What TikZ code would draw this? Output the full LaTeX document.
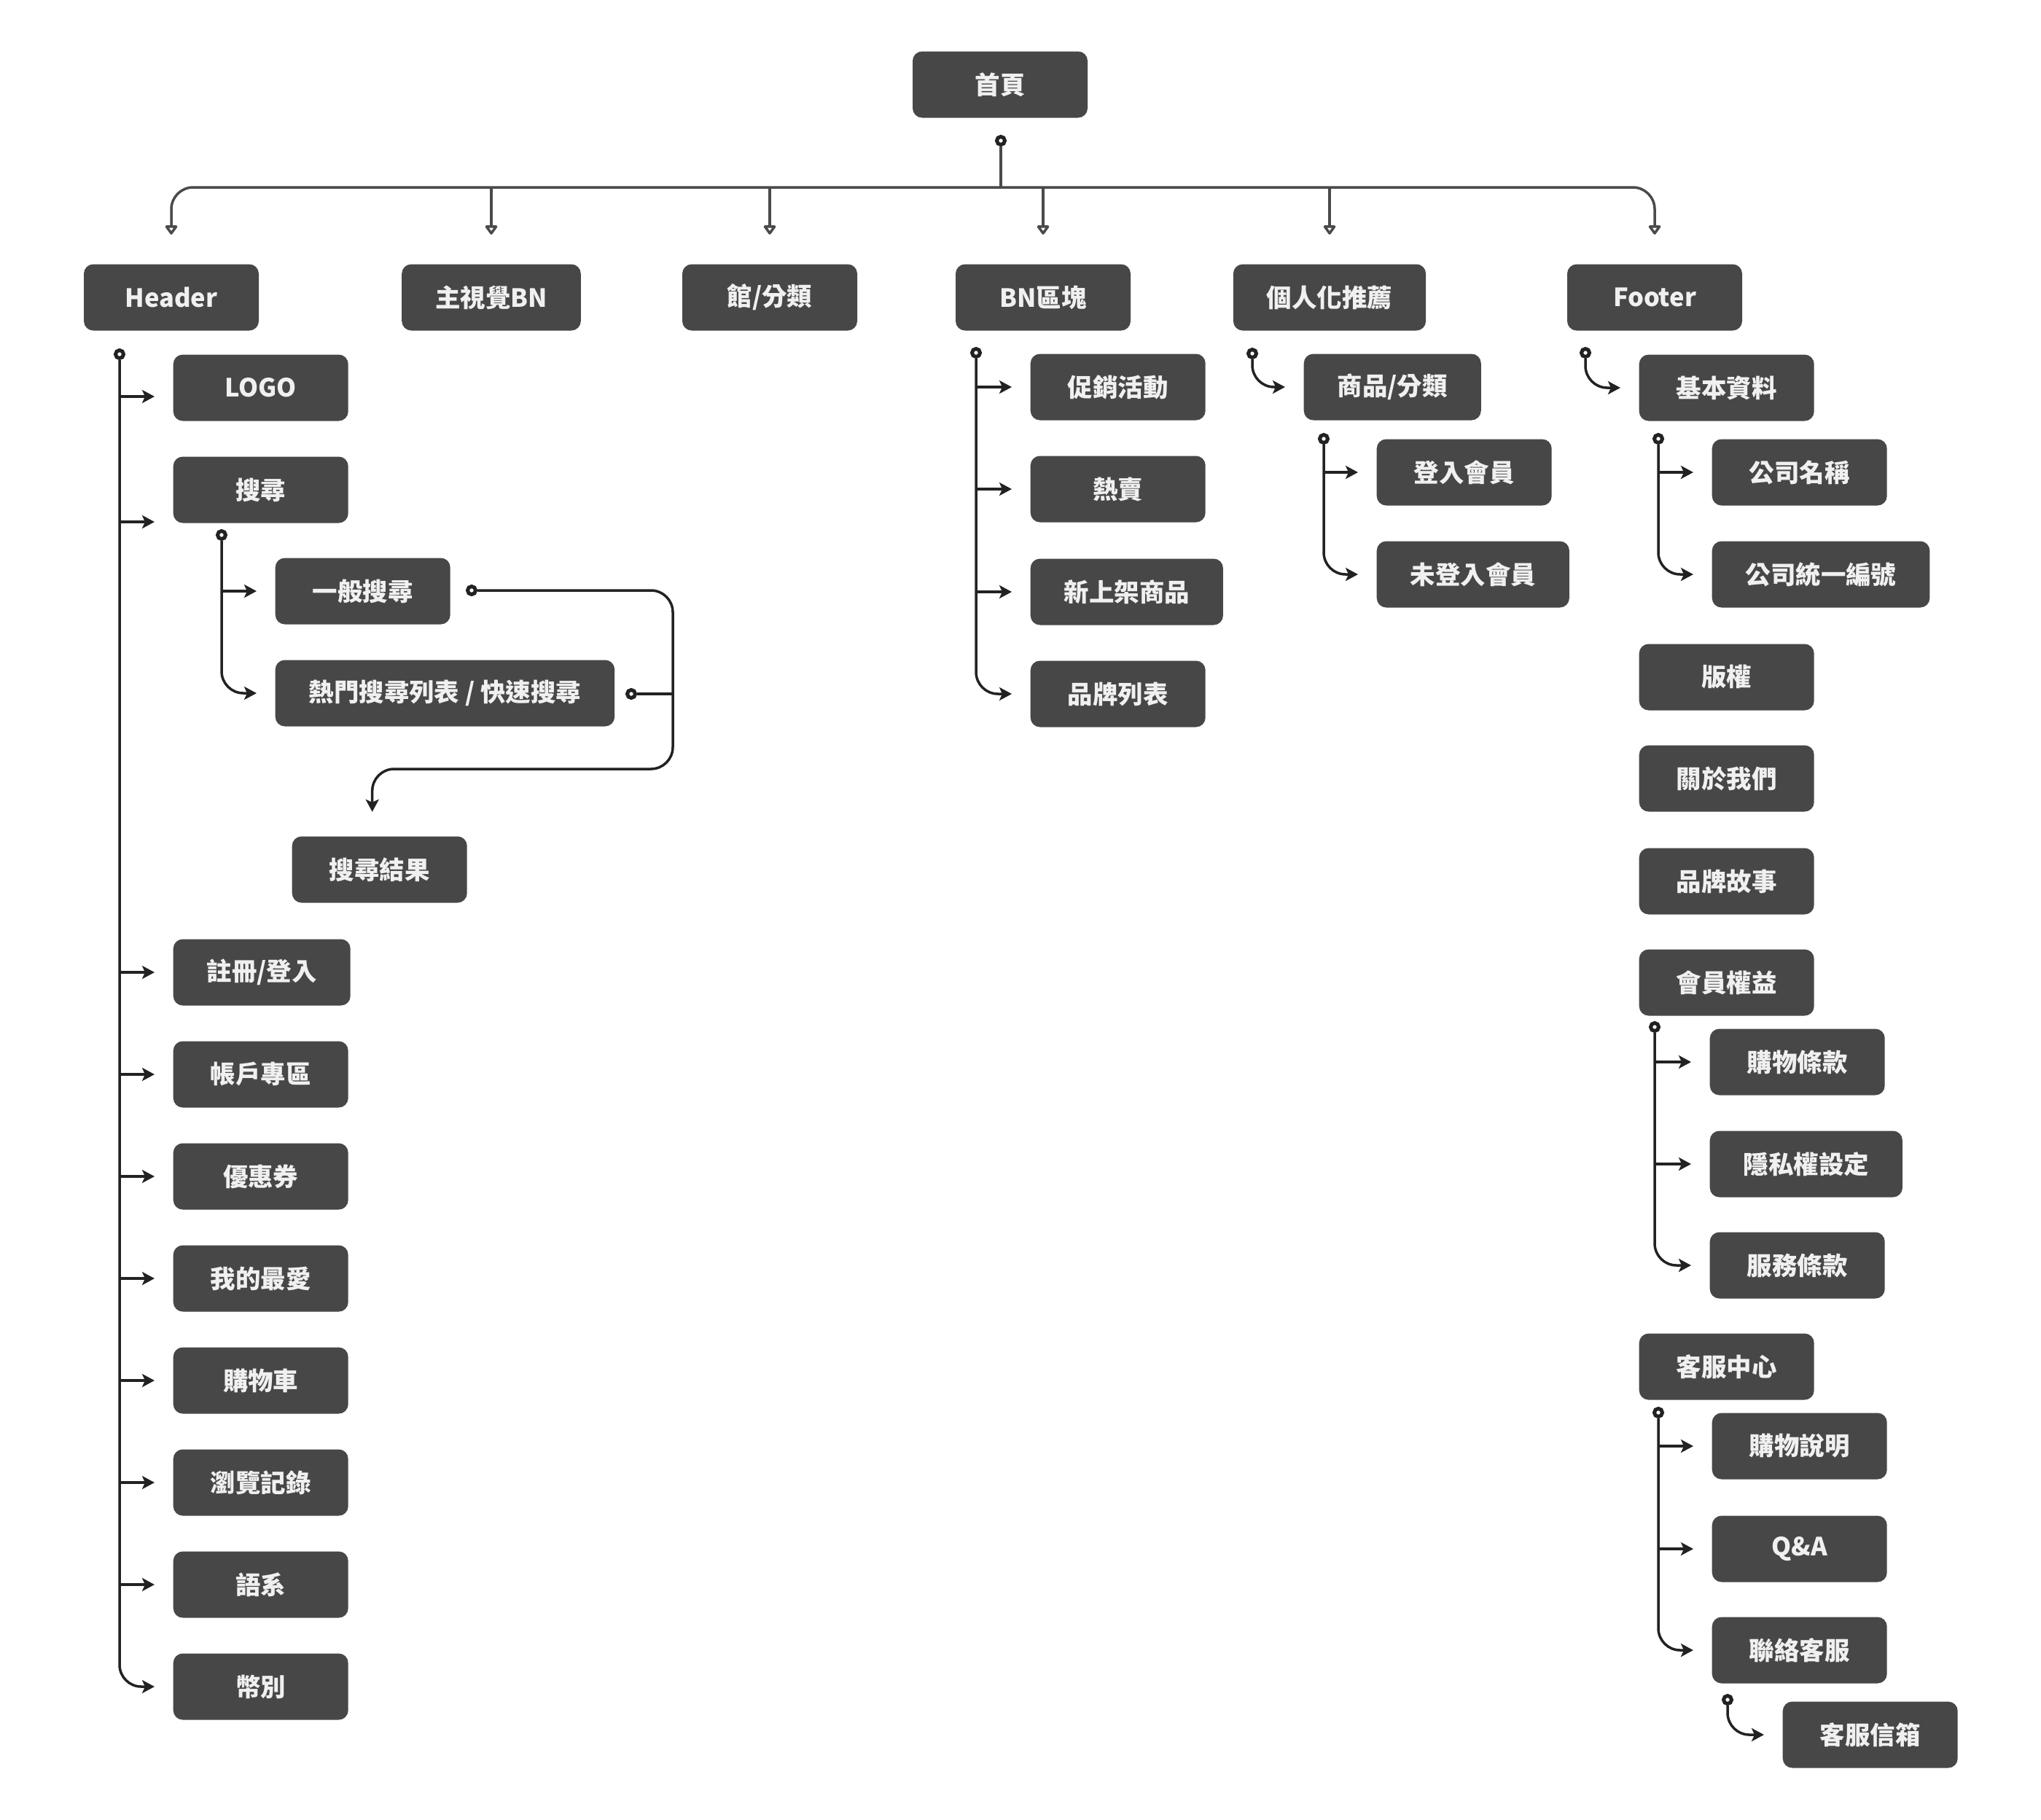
\documentclass[tikz,border=0pt]{standalone}
\usepackage{fontspec}
\setmainfont{Noto Sans CJK TC}
\usetikzlibrary{arrows.meta}
\definecolor{boxc}{HTML}{474747}
\definecolor{txtc}{HTML}{F0F0F0}
\definecolor{busc}{HTML}{4A4A4A}
\definecolor{linkc}{HTML}{222222}
\begin{document}
\begin{tikzpicture}
\tikzstyle{pg}=[rectangle,rounded corners=0.13cm,fill=boxc,text=txtc,minimum width=2.4cm,minimum height=0.91cm,inner xsep=0.46cm,font=\bfseries\fontsize{9.8}{11}\selectfont]
\tikzstyle{hub}=[circle,draw=linkc,fill=white,line width=0.05cm,minimum size=0.11cm,inner sep=0pt]
\tikzstyle{wire}=[draw=busc,line width=0.035cm,rounded corners=0.3cm]
\tikzstyle{down}=[wire,-{Triangle[open,round,length=0.14cm,width=0.19cm]},shorten >=0.4cm]
\tikzstyle{plain}=[draw=linkc,line width=0.035cm,rounded corners=0.3cm]
\tikzstyle{link}=[plain,-{Stealth[length=0.17cm,width=0.18cm,inset=0.04cm]},shorten >=0.25cm]
\useasboundingbox (0,0) rectangle (28,-24.96);
% top
\node[pg] (home) at (13.72,-1.16) {首頁};
\node[pg] (hdr) at (2.35,-4.08) {Header};
\node[pg] (kv) at (6.74,-4.08) {主視覺BN};
\node[pg] (cat) at (10.56,-4.08) {館/分類};
\node[pg] (bn) at (14.31,-4.08) {BN區塊};
\node[pg] (rec) at (18.24,-4.08) {個人化推薦};
\node[pg] (ftr) at (22.70,-4.08) {Footer};
% header
\node[pg,anchor=west] (logo) at (2.37,-5.32) {LOGO};
\node[pg,anchor=west] (srch) at (2.37,-6.72) {搜尋};
\node[pg,anchor=west] (gs) at (3.77,-8.11) {一般搜尋};
\node[pg,anchor=west] (hot) at (3.77,-9.51) {熱門搜尋列表 / 快速搜尋};
\node[pg,anchor=west] (res) at (4.00,-11.93) {搜尋結果};
\node[pg,anchor=west] (reg) at (2.37,-13.34) {註冊/登入};
\node[pg,anchor=west] (acct) at (2.37,-14.74) {帳戶專區};
\node[pg,anchor=west] (coup) at (2.37,-16.14) {優惠券};
\node[pg,anchor=west] (fav) at (2.37,-17.54) {我的最愛};
\node[pg,anchor=west] (cart) at (2.37,-18.94) {購物車};
\node[pg,anchor=west] (hist) at (2.37,-20.34) {瀏覽記錄};
\node[pg,anchor=west] (lang) at (2.37,-21.74) {語系};
\node[pg,anchor=west] (cur) at (2.37,-23.14) {幣別};
% bn
\node[pg,anchor=west] (promo) at (14.13,-5.31) {促銷活動};
\node[pg,anchor=west] (sale) at (14.13,-6.71) {熱賣};
\node[pg,anchor=west] (newp) at (14.13,-8.12) {新上架商品};
\node[pg,anchor=west] (brand) at (14.13,-9.52) {品牌列表};
% rec
\node[pg,anchor=west] (prod) at (17.88,-5.31) {商品/分類};
\node[pg,anchor=west] (login) at (18.88,-6.48) {登入會員};
\node[pg,anchor=west] (guest) at (18.88,-7.88) {未登入會員};
% footer
\node[pg,anchor=west] (basic) at (22.48,-5.32) {基本資料};
\node[pg,anchor=west] (cname) at (23.48,-6.48) {公司名稱};
\node[pg,anchor=west] (vat) at (23.48,-7.88) {公司統一編號};
\node[pg,anchor=west] (copy) at (22.48,-9.29) {版權};
\node[pg,anchor=west] (about) at (22.48,-10.68) {關於我們};
\node[pg,anchor=west] (story) at (22.48,-12.09) {品牌故事};
\node[pg,anchor=west] (member) at (22.48,-13.48) {會員權益};
\node[pg,anchor=west] (buy) at (23.45,-14.57) {購物條款};
\node[pg,anchor=west] (priv) at (23.45,-15.97) {隱私權設定};
\node[pg,anchor=west] (svc) at (23.45,-17.36) {服務條款};
\node[pg,anchor=west] (cs) at (22.48,-18.75) {客服中心};
\node[pg,anchor=west] (guide) at (23.48,-19.84) {購物說明};
\node[pg,anchor=west] (qa) at (23.48,-21.25) {Q\&A};
\node[pg,anchor=west] (call) at (23.48,-22.64) {聯絡客服};
\node[pg,anchor=west] (mail) at (24.45,-23.80) {客服信箱};
% bus
\node[hub] (h0) at (13.73,-1.93) {};
\coordinate (bus) at (13.73,-2.57);
\draw[wire] (h0) -- (bus);
\draw[down] (bus) -| (hdr);
\draw[down] (bus) -| (ftr);
\foreach \n in {kv,cat,bn,rec} \draw[down] (bus -| \n) -- (\n);
% header links
\node[hub] (h1) at (1.64,-4.86) {};
\coordinate (logoin) at ([yshift=-0.12cm]logo.west);
\coordinate (srchin) at ([yshift=-0.44cm]srch.west);
\draw[link] (h1) |- (cur.west);
\draw[link] (h1 |- logoin) -- (logoin);
\draw[link] (h1 |- srchin) -- (srchin);
\foreach \n in {reg,acct,coup,fav,cart,hist,lang} \draw[link] (h1 |- \n.west) -- (\n.west);
\node[hub] (h2) at (3.04,-7.34) {};
\draw[link] (h2) |- (hot.west);
\draw[link] (h2 |- gs.west) -- (gs.west);
\node[hub] (h3) at (6.47,-8.10) {};
\node[hub] (h4) at (8.66,-9.52) {};
\coordinate (sj) at (9.23,-10.55);
\draw[link,shorten >=0.33cm] (h3) -| (sj) -| ([xshift=-0.1cm]res.north);
\draw[plain] (h4) -- (h4 -| sj);
% bn links
\node[hub] (h5) at (13.39,-4.84) {};
\draw[link] (h5) |- (brand.west);
\foreach \n in {promo,sale,newp} \draw[link] (h5 |- \n.west) -- (\n.west);
% rec links
\node[hub] (h6) at (17.18,-4.85) {};
\draw[link] (h6) |- (prod.west);
\node[hub] (h7) at (18.16,-6.02) {};
\draw[link] (h7) |- (guest.west);
\draw[link] (h7 |- login.west) -- (login.west);
% footer links
\node[hub] (h8) at (21.75,-4.84) {};
\draw[link] (h8) |- (basic.west);
\node[hub] (h9) at (22.75,-6.02) {};
\draw[link] (h9) |- (vat.west);
\draw[link] (h9 |- cname.west) -- (cname.west);
\node[hub] (h10) at (22.70,-14.09) {};
\draw[link] (h10) |- (svc.west);
\foreach \n in {buy,priv} \draw[link] (h10 |- \n.west) -- (\n.west);
\node[hub] (h11) at (22.75,-19.38) {};
\draw[link] (h11) |- (call.west);
\foreach \n in {guide,qa} \draw[link] (h11 |- \n.west) -- (\n.west);
\node[hub] (h12) at (23.70,-23.32) {};
\draw[link] (h12) |- (mail.west);
\end{tikzpicture}
\end{document}
